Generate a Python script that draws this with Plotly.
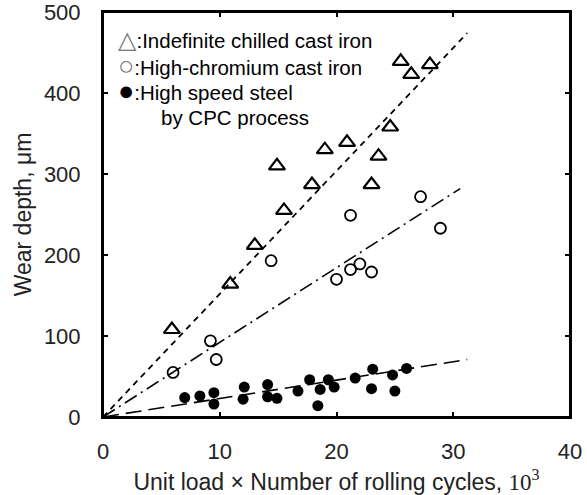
import plotly.graph_objects as go

# --- data ---
tri_x = [5.9, 10.9, 13.0, 14.9, 15.5, 17.9, 19.0, 20.9, 23.6, 23.0, 24.6, 25.5, 26.4, 28.0]
tri_y = [108, 164, 212, 310, 255, 287, 330, 339, 322, 287, 358, 439, 423, 435]

circ_x = [6.0, 9.2, 9.7, 14.4, 21.2, 27.2, 28.9, 20.0, 21.2, 22.0, 23.0]
circ_y = [55, 94, 71, 193, 249, 272, 233, 170, 182, 189, 179]

fill_x = [7.0, 8.3, 9.5, 9.5, 12.1, 12.0, 14.1, 14.1, 14.9, 16.7, 17.7, 18.6, 18.4,
          19.3, 19.8, 21.6, 23.1, 23.0, 24.8, 25.0, 26.0]
fill_y = [24, 26, 30, 16, 37, 22, 40, 25, 23, 32, 46, 34, 14,
          46, 37, 48, 59, 35, 52, 32, 60]

tri_fit_x = [0, 31.2]
tri_fit_y = [0, 474]
circ_fit_x = [0, 30.6]
circ_fit_y = [0, 282]
fill_fit_x = [0, 31.2]
fill_fit_y = [0, 71]

x_ticks = [0, 10, 20, 30, 40]
y_ticks = [0, 100, 200, 300, 400, 500]

legend_lines = [
    '<span style="color:#777777;font-size:24px">△</span>:Indefinite chilled cast iron',
    '<span style="color:#777777;font-size:27px">○</span>:High-chromium cast iron',
    '<span style="font-size:27px">●</span>:High speed steel',
    'by CPC process',
]

W, H = 587, 495
L, R, T, B = 103, 17, 12, 78
pw, ph = W - L - R, H - T - B

fig = go.Figure()
fig.add_trace(go.Scatter(x=tri_fit_x, y=tri_fit_y, mode='lines',
                         line=dict(color='black', width=1.8, dash='6px,5px'), showlegend=False))
fig.add_trace(go.Scatter(x=circ_fit_x, y=circ_fit_y, mode='lines',
                         line=dict(color='black', width=1.6, dash='14px,5px,2px,5px'), showlegend=False))
fig.add_trace(go.Scatter(x=fill_fit_x, y=fill_fit_y, mode='lines',
                         line=dict(color='black', width=1.6, dash='16px,7px'), showlegend=False))

fig.add_trace(go.Scatter(x=tri_x, y=tri_y, mode='markers',
                         marker=dict(symbol='triangle-up-open', size=14, color='black',
                                     line=dict(width=2.2, color='black')), showlegend=False))
fig.add_trace(go.Scatter(x=circ_x, y=circ_y, mode='markers',
                         marker=dict(symbol='circle-open', size=11, color='black',
                                     line=dict(width=1.8, color='black')), showlegend=False))
fig.add_trace(go.Scatter(x=fill_x, y=fill_y, mode='markers',
                         marker=dict(symbol='circle', size=11, color='black',
                                     line=dict(width=0)), showlegend=False))

legend_px = [(116, 40), (116, 65.5), (116, 91), (159, 117)]
for txt, (px, py) in zip(legend_lines, legend_px):
    fig.add_annotation(text=txt, xref='x domain', yref='y domain',
                       x=(px - L) / pw, y=(H - B - py) / ph,
                       xanchor='left', yanchor='middle', showarrow=False,
                       font=dict(size=20.5, color='black', family='Liberation Sans, Arial, DejaVu Sans'))

axis_common = dict(showline=True, linecolor='black', linewidth=2, mirror='ticks',
                   ticks='inside', ticklen=5, tickwidth=1.5, tickcolor='black',
                   showgrid=False, zeroline=False, ticklabeloverflow='allow',
                   tickfont=dict(size=22, color='#222222', family='Liberation Sans, Arial'))

fig.update_xaxes(range=[0, 40], tickvals=x_ticks, ticktext=[str(v) for v in x_ticks],
                 ticklabelstandoff=14,
                 title=dict(text='Unit load × Number of rolling cycles, '
                                 '<span style="font-family:Liberation Serif">10<sup>3</sup></span>',
                            font=dict(size=23, color='#222222', family='Liberation Sans, Arial'),
                            standoff=12),
                 **axis_common)
fig.update_yaxes(range=[0, 500], tickvals=y_ticks, ticktext=[str(v) for v in y_ticks],
                 ticklabelstandoff=16,
                 title=dict(text='Wear depth, μm',
                            font=dict(size=23, color='#222222', family='Liberation Sans, Arial'),
                            standoff=6),
                 **axis_common)

# frame of the plot area (ensures the top border is drawn)
fig.add_shape(type='rect', xref='x domain', yref='y domain', x0=0, x1=1, y0=0, y1=1,
              line=dict(color='black', width=2), layer='above')

fig.update_layout(width=W, height=H, margin=dict(l=L, r=R, t=T, b=B, autoexpand=False),
                  plot_bgcolor='white', paper_bgcolor='white')

fig.write_html('out.html', config={'displayModeBar': False},
               post_script="document.body.style.margin='0';document.body.style.padding='0';")
